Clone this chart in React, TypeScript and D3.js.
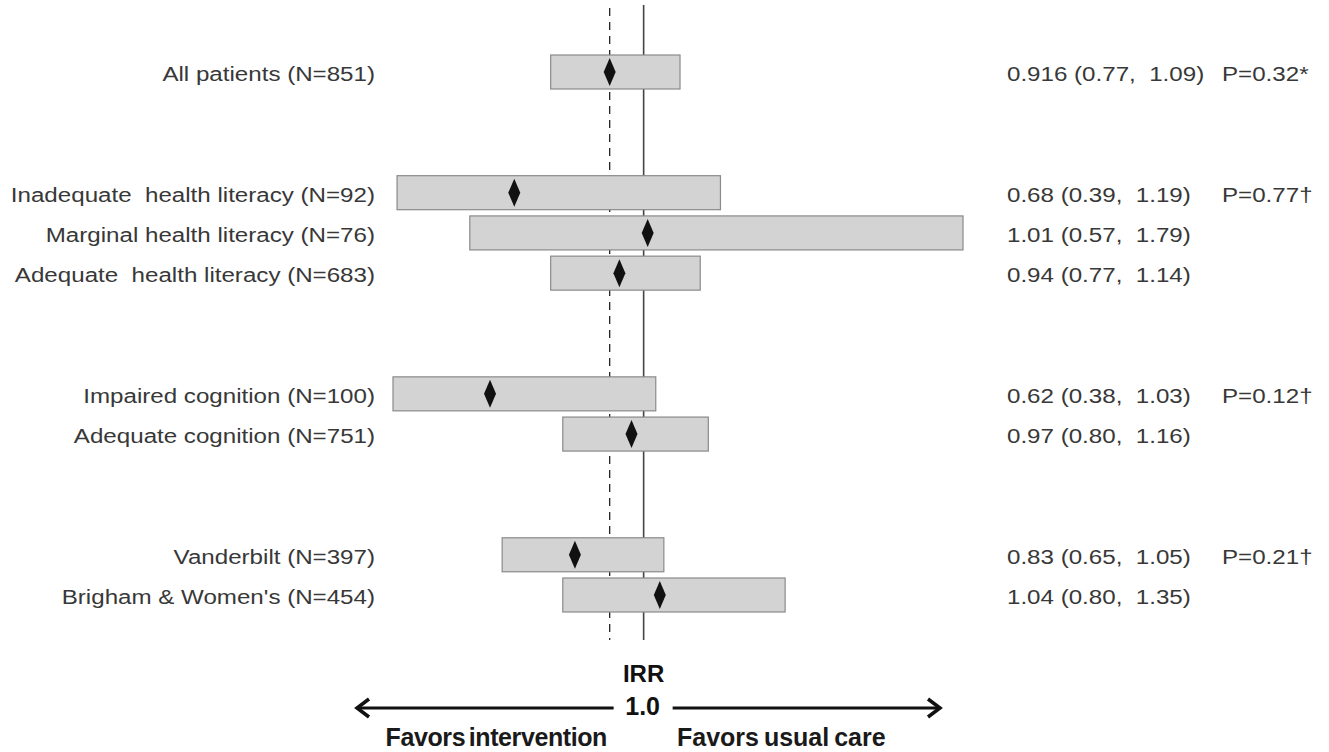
import React, { useEffect, useRef } from 'react'
import * as d3 from 'd3'

const labels = [
  'All patients (N=851)',
  'Inadequate  health literacy (N=92)',
  'Marginal health literacy (N=76)',
  'Adequate  health literacy (N=683)',
  'Impaired cognition (N=100)',
  'Adequate cognition (N=751)',
  'Vanderbilt (N=397)',
  "Brigham & Women's (N=454)",
]
const groups = [0, 1, 1, 1, 2, 2, 3, 3]
const estimates = [0.916, 0.68, 1.01, 0.94, 0.62, 0.97, 0.83, 1.04]
const lower = [0.77, 0.39, 0.57, 0.77, 0.38, 0.8, 0.65, 0.8]
const upper = [1.09, 1.19, 1.79, 1.14, 1.03, 1.16, 1.05, 1.35]
const estLabels = [
  '0.916 (0.77,  1.09)',
  '0.68 (0.39,  1.19)',
  '1.01 (0.57,  1.79)',
  '0.94 (0.77,  1.14)',
  '0.62 (0.38,  1.03)',
  '0.97 (0.80,  1.16)',
  '0.83 (0.65,  1.05)',
  '1.04 (0.80,  1.35)',
]
const pLabels = ['P=0.32*', 'P=0.77\u2020', '', '', 'P=0.12\u2020', '', 'P=0.21\u2020', '']
const overall = 0.916
const nullValue = 1.0

const W = 1329
const H = 752

function drawChart(svgEl: SVGSVGElement) {
  const svg = d3.select(svgEl)
  svg.selectAll('*').remove()

  const x = d3.scaleLinear().domain([0.38, 1.79]).range([393, 963])

  // slot index: rows stacked, 2 empty slots between groups
  const slots: number[] = []
  let s = 0
  groups.forEach((g, i) => {
    if (i > 0 && g !== groups[i - 1]) s += 3
    else if (i > 0) s += 1
    slots.push(s)
  })
  const y = d3.scaleLinear().domain([0, 13]).range([72, 595])
  const barH = 34

  const font = '"Liberation Sans", Arial, sans-serif'
  const stretch = 1.15

  // reference lines
  svg.append('line')
    .attr('x1', x(overall)).attr('x2', x(overall))
    .attr('y1', 8).attr('y2', 640)
    .attr('stroke', '#222').attr('stroke-width', 1.3)
    .attr('stroke-dasharray', '8,6')
  svg.append('line')
    .attr('x1', x(nullValue)).attr('x2', x(nullValue))
    .attr('y1', 5).attr('y2', 640)
    .attr('stroke', '#444').attr('stroke-width', 1.6)

  const rows = svg.selectAll('g.row')
    .data(labels.map((l, i) => ({ l, i })))
    .join('g')
    .attr('class', 'row')

  rows.append('rect')
    .attr('x', d => x(lower[d.i]))
    .attr('width', d => x(upper[d.i]) - x(lower[d.i]))
    .attr('y', d => y(slots[d.i]) - barH / 2)
    .attr('height', barH)
    .attr('fill', '#d3d3d3')
    .attr('stroke', '#8a8a8a')
    .attr('stroke-width', 1.2)

  rows.append('path')
    .attr('d', d => {
      const cx = x(estimates[d.i])
      const cy = y(slots[d.i])
      return `M${cx},${cy - 14}L${cx + 6},${cy}L${cx},${cy + 14}L${cx - 6},${cy}Z`
    })
    .attr('fill', '#111')

  const rowText = (tx: number, anchor: string, txt: (i: number) => string) => {
    rows.append('text')
      .attr('transform', d => `translate(${tx},${y(slots[d.i]) + 9}) scale(${stretch},1)`)
      .attr('text-anchor', anchor)
      .style('white-space', 'pre')
      .attr('font-family', font)
      .attr('font-size', 21)
      .attr('fill', '#383838')
      .text(d => txt(d.i))
  }
  rowText(375, 'end', i => labels[i])
  rowText(1007, 'start', i => estLabels[i])
  rowText(1222, 'start', i => pLabels[i])

  // bottom axis annotation
  const cx = x(nullValue)
  svg.append('text')
    .attr('x', cx).attr('y', 682)
    .attr('text-anchor', 'middle')
    .attr('font-family', font).attr('font-weight', 'bold').attr('font-size', 24)
    .attr('fill', '#111')
    .text('IRR')
  svg.append('text')
    .attr('x', cx - 1).attr('y', 715)
    .attr('text-anchor', 'middle')
    .attr('font-family', font).attr('font-weight', 'bold').attr('font-size', 25)
    .attr('fill', '#111')
    .text('1.0')

  const arrowY = 708
  const arrow = (x1: number, x2: number) => {
    svg.append('line')
      .attr('x1', x1).attr('x2', x2)
      .attr('y1', arrowY).attr('y2', arrowY)
      .attr('stroke', '#111').attr('stroke-width', 3)
    const dir = x2 > x1 ? 1 : -1
    svg.append('path')
      .attr('d', `M${x2 - dir * 12},${arrowY - 9}L${x2},${arrowY}L${x2 - dir * 12},${arrowY + 9}`)
      .attr('fill', 'none').attr('stroke', '#111').attr('stroke-width', 3.5)
      .attr('stroke-linejoin', 'miter')
  }
  arrow(cx - 30, 357)
  arrow(cx + 29, 940)

  svg.append('text')
    .attr('x', 607).attr('y', 746)
    .attr('text-anchor', 'end')
    .attr('font-family', font).attr('font-weight', 'bold').attr('font-size', 25)
    .attr('letter-spacing', -0.4)
    .attr('word-spacing', -3)
    .attr('fill', '#1a1a1a')
    .text('Favors intervention')
  svg.append('text')
    .attr('x', 677).attr('y', 746)
    .attr('font-family', font).attr('font-weight', 'bold').attr('font-size', 25)
    .attr('letter-spacing', 0)
    .attr('word-spacing', -2)
    .attr('fill', '#1a1a1a')
    .text('Favors usual care')
}

export default function App() {
  const ref = useRef<SVGSVGElement>(null)
  useEffect(() => {
    if (ref.current) drawChart(ref.current)
  }, [])
  return (
    <svg ref={ref} width={W} height={H}
      style={{ position: 'absolute', left: 0, top: 0, background: '#fff' }} />
  )
}
